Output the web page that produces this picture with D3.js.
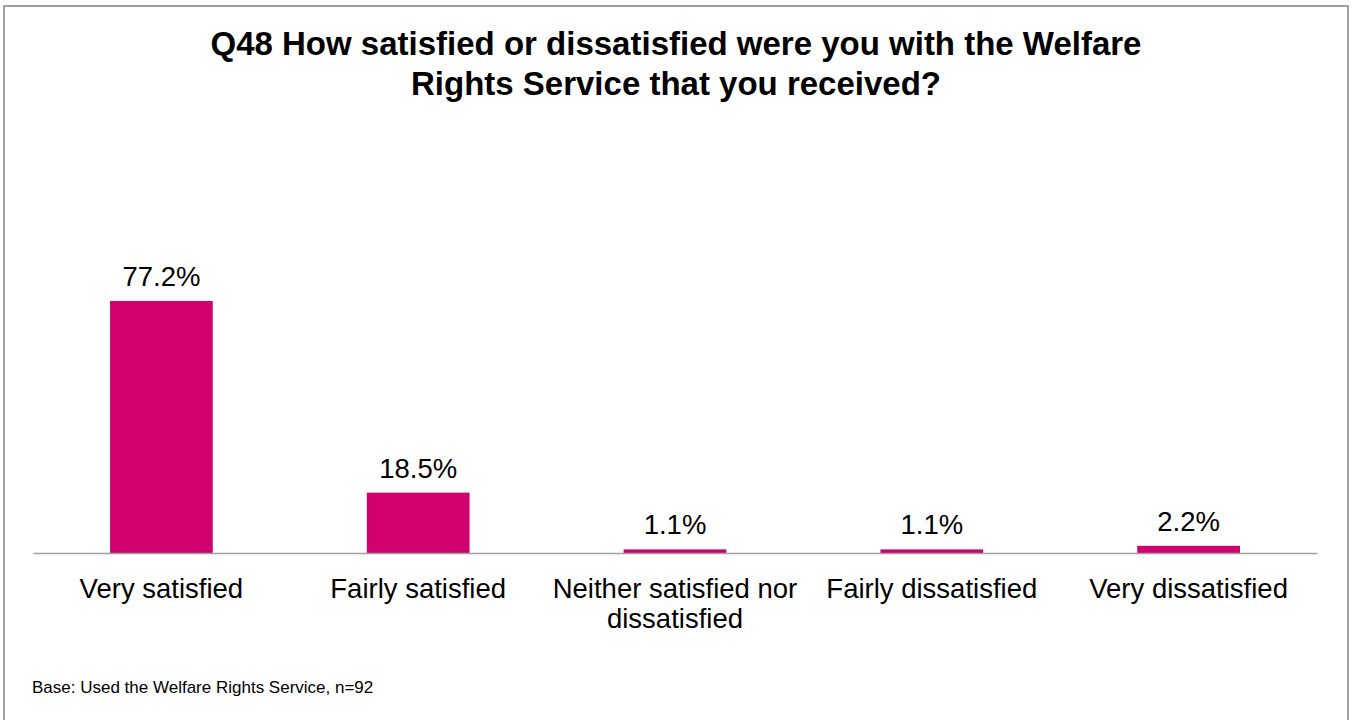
<!DOCTYPE html>
<html>
<head>
<meta charset="utf-8">
<script src="https://cdn.jsdelivr.net/npm/d3@7/dist/d3.min.js"></script>
<style>
  html, body { margin: 0; padding: 0; background: #fff; }
  svg { display: block; font-family: "Liberation Sans", Arial, sans-serif; }
</style>
</head>
<body>
<svg id="chart" width="1354" height="720"></svg>
<script>
const categories = ["Very satisfied", "Fairly satisfied", "Neither satisfied nor dissatisfied", "Fairly dissatisfied", "Very dissatisfied"];
const values = [77.2, 18.5, 1.1, 1.1, 2.2];
const valueLabels = ["77.2%", "18.5%", "1.1%", "1.1%", "2.2%"];
const titleLines = ["Q48 How satisfied or dissatisfied were you with the Welfare", "Rights Service that you received?"];
const footnote = "Base: Used the Welfare Rights Service, n=92";

const svg = d3.select("#chart");

// frame
svg.append("rect")
  .attr("x", 4).attr("y", 6).attr("width", 1344).attr("height", 720)
  .attr("fill", "#fff").attr("stroke", "#a0a0a0").attr("stroke-width", 2);

// title
const title = svg.append("text")
  .attr("text-anchor", "middle")
  .attr("font-size", 33).attr("font-weight", "bold").attr("fill", "#000");
titleLines.forEach((l, i) => {
  title.append("tspan").attr("x", 676).attr("y", 55 + i * 40).text(l);
});

const x = d3.scaleBand().domain(categories).range([33, 1317]).paddingInner(0.6).paddingOuter(0.3);
const y = d3.scaleLinear().domain([0, 100]).range([553, 226.6]);

// bars
svg.append("g").selectAll("rect").data(categories).join("rect")
  .attr("x", d => x(d))
  .attr("width", x.bandwidth())
  .attr("y", (d, i) => y(values[i]))
  .attr("height", (d, i) => y(0) - y(values[i]))
  .attr("fill", "#D0006F");

// baseline axis
const axis = d3.axisBottom(x).tickSize(0).tickFormat("");
const axG = svg.append("g").attr("transform", `translate(0,${y(0)})`).call(axis);
axG.select(".domain").attr("stroke", "#a0a0a0").attr("stroke-width", 1.5);

// value labels
svg.append("g").selectAll("text").data(categories).join("text")
  .attr("x", d => x(d) + x.bandwidth() / 2)
  .attr("y", (d, i) => y(values[i]) - 15)
  .attr("text-anchor", "middle")
  .attr("font-size", 27.5).attr("fill", "#000")
  .text((d, i) => valueLabels[i]);

// category labels (wrapped)
const step = x.step();
const catG = svg.append("g");
categories.forEach(c => {
  const t = catG.append("text")
    .attr("text-anchor", "middle")
    .attr("font-size", 27.5).attr("fill", "#000");
  const cx = x(c) + x.bandwidth() / 2;
  const words = c.split(" ");
  let line = [];
  let lines = [];
  const measure = t.append("tspan").attr("x", cx);
  words.forEach(w => {
    const test = line.concat([w]).join(" ");
    measure.text(test);
    if (measure.node().getComputedTextLength() > step && line.length) {
      lines.push(line.join(" "));
      line = [w];
    } else {
      line.push(w);
    }
  });
  lines.push(line.join(" "));
  measure.remove();
  lines.forEach((l, i) => {
    t.append("tspan").attr("x", cx).attr("y", 598 + i * 30).text(l);
  });
});

// footnote
svg.append("text")
  .attr("x", 32).attr("y", 693)
  .attr("font-size", 17).attr("fill", "#000")
  .text(footnote);
</script>
</body>
</html>
